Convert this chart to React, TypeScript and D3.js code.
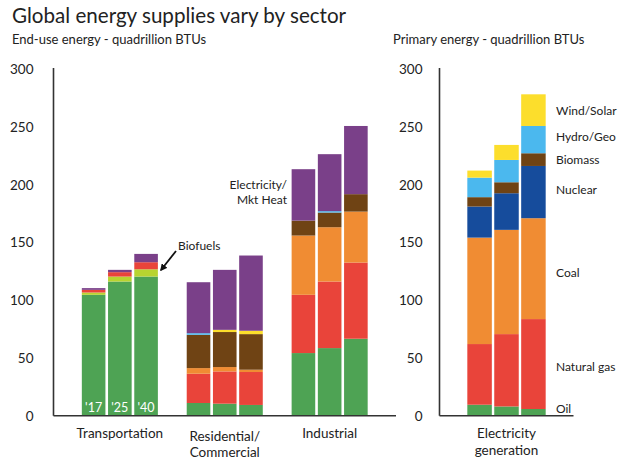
import React from "react";
import * as d3 from "d3";

// Sectors and years (3 bars per sector)
const sectors = ["Transportation", "Residential/Commercial", "Industrial", "Electricity generation"];
const endUseSectors = ["Transportation", "Residential/Commercial", "Industrial"];
const primarySectors = ["Electricity generation"];
const years = ["'17", "'25", "'40"];

// Values per fuel, quadrillion BTUs, ordered sector by sector, year by year
const oil = [104.6, 116.1, 120.4, 11.0, 10.4, 9.3, 54.2, 58.5, 66.6, 9.5, 8.0, 5.8];
const biofuels = [2.0, 4.3, 6.3, 0, 0, 0, 0, 0, 0, 0, 0, 0];
const naturalGas = [2.3, 3.8, 6.1, 25.3, 27.9, 28.5, 50.4, 57.6, 65.9, 52.5, 62.6, 77.8];
const coal = [0, 0, 0, 4.9, 3.8, 2.0, 51.3, 47.0, 44.1, 92.1, 90.2, 87.3];
const nuclear = [0, 0, 0, 0, 0, 0, 0, 0, 0, 26.9, 31.7, 45.2];
const biomass = [0, 0, 0, 28.8, 30.3, 30.8, 12.9, 12.7, 15.1, 8.1, 9.5, 11.0];
const hydroGeo = [0, 0, 0, 1.4, 0, 0, 0, 1.2, 0, 16.9, 19.3, 23.6];
const windSolar = [0, 0, 0, 0, 1.9, 2.9, 0, 0, 0, 6.1, 13.0, 27.4];
const electricity = [1.5, 2.0, 7.2, 44.1, 51.9, 65.1, 44.5, 49.3, 59.0, 0, 0, 0];

const yTicks = [0, 50, 100, 150, 200, 250, 300];

const seriesKeys = ["Oil", "Biofuels", "Natural gas", "Coal", "Nuclear", "Biomass", "Hydro/Geo", "Wind/Solar", "Electricity/Mkt Heat"];
const seriesValues = [oil, biofuels, naturalGas, coal, nuclear, biomass, hydroGeo, windSolar, electricity];
const seriesColors = ["#4ea354", "#b8d430", "#e9443a", "#f08c33", "#164c9c", "#6f4314", "#4bb8ee", "#fcde2c", "#7a4089"];

// Right-panel fuel labels with their vertical centres (value units)
const primaryLabels = ["Wind/Solar", "Hydro/Geo", "Biomass", "Nuclear", "Coal", "Natural gas", "Oil"];
const primaryLabelLevels = [264, 241.5, 221.5, 195.5, 123.5, 43, 6.5];

const FONT = "Lato, 'Open Sans', sans-serif";

type Row = { sector: string; year: string; [k: string]: any };

const rows: Row[] = [];
sectors.forEach((s, si) => {
  years.forEach((y, yi) => {
    const r: Row = { sector: s, year: y };
    seriesKeys.forEach((k, ki) => {
      r[k] = seriesValues[ki][si * 3 + yi];
    });
    rows.push(r);
  });
});

const stack = d3.stack<Row>().keys(seriesKeys);
const stacked = stack(rows);
const color = d3.scaleOrdinal<string, string>().domain(seriesKeys).range(seriesColors);

const y = d3.scaleLinear().domain([0, 300]).range([415.7, 69]);

const xLeft = d3.scaleBand<string>().domain(endUseSectors).range([53.5, 396]).paddingInner(0.275).paddingOuter(0.27);
const xRight = d3.scaleBand<string>().domain(primarySectors).range([439.5, 573.5]).paddingInner(0).paddingOuter(0.355);

function sectorScale(s: string) {
  return endUseSectors.includes(s) ? xLeft : xRight;
}
function yearScale(s: string) {
  const sc = sectorScale(s);
  return d3.scaleBand<string>().domain(years).range([0, sc.bandwidth()]).paddingInner(s === "Electricity generation" ? 0.09 : 0.1);
}
function barX(r: Row) {
  return (sectorScale(r.sector)(r.sector) as number) + (yearScale(r.sector)(r.year) as number);
}

export default function App() {
  const axisY = y(0);
  const tickFont = 13.5;

  return (
    <svg width={618} height={461} style={{ position: "absolute", left: 0, top: 0, background: "#fff" }} fontFamily={FONT}>
      <text x={12} y={23} fontSize={20.6} fill="#222">Global energy supplies vary by sector</text>
      <text x={12} y={44} fontSize={13} fill="#222">End-use energy - quadrillion BTUs</text>
      <text x={393} y={44} fontSize={13} fill="#222">Primary energy - quadrillion BTUs</text>

      {/* stacked bars */}
      {stacked.map((layer) => (
        <g key={layer.key} fill={color(layer.key)}>
          {layer.map((d, i) => {
            const h = y(d[0]) - y(d[1]);
            if (h <= 0) return null;
            const r = rows[i];
            return (
              <rect key={i} x={barX(r)} y={y(d[1])} width={yearScale(r.sector).bandwidth()} height={h} />
            );
          })}
        </g>
      ))}

      {/* year labels on transportation bars */}
      {rows.filter((r) => r.sector === "Transportation").map((r) => (
        <text key={r.year} x={barX(r) + yearScale(r.sector).bandwidth() / 2} y={412} fontSize={12.5} fill="#fff" textAnchor="middle">{r.year}</text>
      ))}

      {/* axes */}
      <g stroke="#333" strokeWidth={1.6} fill="none">
        <line x1={53.5} x2={53.5} y1={68} y2={axisY} />
        <line x1={53.5} x2={396} y1={axisY} y2={axisY} />
        <line x1={439.5} x2={439.5} y1={68} y2={axisY} />
        <line x1={439.5} x2={573.5} y1={axisY} y2={axisY} />
      </g>
      {yTicks.map((t) => (
        <g key={t} fontSize={tickFont} fill="#222" textAnchor="end">
          <text x={33.5} y={y(t) + 5}>{t}</text>
          <text x={422.5} y={y(t) + 5}>{t}</text>
        </g>
      ))}

      {/* category labels */}
      {endUseSectors.map((s) => {
        const cx = (xLeft(s) as number) + xLeft.bandwidth() / 2;
        const parts = s.includes("/") ? [s.slice(0, s.indexOf("/") + 1), s.slice(s.indexOf("/") + 1)] : [s];
        return (
          <text key={s} x={cx} fontSize={13.5} fill="#222" textAnchor="middle">
            {parts.map((p, i) => (
              <tspan key={i} x={cx} y={parts.length > 1 ? 441 + i * 16 : 438}>{p}</tspan>
            ))}
          </text>
        );
      })}
      {primarySectors.map((s) => {
        const cx = (xRight(s) as number) + xRight.bandwidth() / 2;
        return (
          <text key={s} x={cx} fontSize={13.5} fill="#222" textAnchor="middle">
            <tspan x={cx} y={438}>Electricity</tspan>
            <tspan x={cx} y={455}>generation</tspan>
          </text>
        );
      })}

      {/* right-panel fuel labels */}
      {primaryLabels.map((k, i) => (
        <text key={k} x={556} y={y(primaryLabelLevels[i]) + 4.5} fontSize={12} fill="#222">{k}</text>
      ))}

      {/* annotations */}
      <text x={287} y={189} fontSize={12} fill="#222" textAnchor="end">
        <tspan x={287} y={189}>Electricity/</tspan>
        <tspan x={287} y={204}>Mkt Heat</tspan>
      </text>
      <text x={178} y={250} fontSize={12} fill="#222">Biofuels</text>
      <defs>
        <marker id="arrowHead" viewBox="0 0 10 10" refX={8} refY={5} markerWidth={4} markerHeight={4} orient="auto">
          <path d="M0,0 L10,5 L0,10 z" fill="#111" />
        </marker>
      </defs>
      <line x1={176} y1={251} x2={161} y2={270} stroke="#111" strokeWidth={1.8} markerEnd="url(#arrowHead)" />
    </svg>
  );
}
